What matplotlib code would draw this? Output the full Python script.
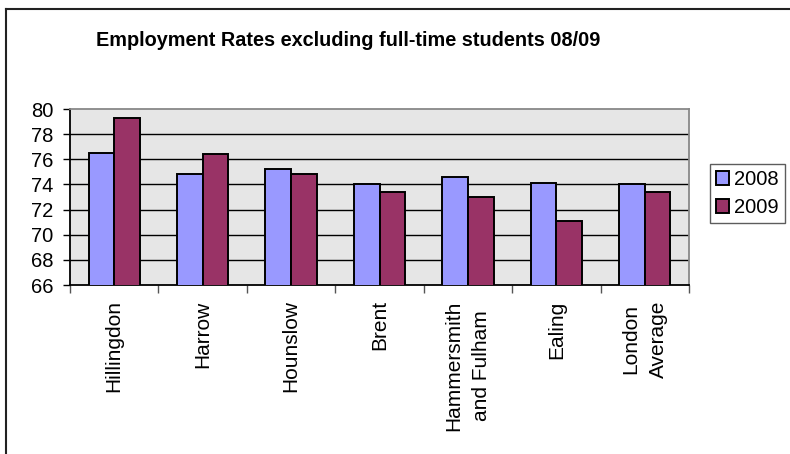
import numpy as np
import matplotlib
matplotlib.use('Agg')
import matplotlib.pyplot as plt
from matplotlib.patches import Patch
from matplotlib.lines import Line2D

plt.rcParams['font.family'] = ['Liberation Sans', 'DejaVu Sans']

boroughs = ['Hillingdon', 'Harrow', 'Hounslow', 'Brent',
            'Hammersmith\nand Fulham', 'Ealing', 'London\nAverage']
rate_2008 = [76.5, 74.8, 75.2, 74.0, 74.6, 74.1, 74.0]
rate_2009 = [79.3, 76.4, 74.8, 73.4, 73.0, 71.1, 73.4]
years = ['2008', '2009']
y_ticks = [66, 68, 70, 72, 74, 76, 78, 80]

col_2008 = '#9999ff'
col_2009 = '#993366'

W, H = 790, 454
fig = plt.figure(figsize=(W / 100, H / 100), dpi=100)
fig.patch.set_facecolor('white')

ax = fig.add_axes((70 / W, 1 - 285 / H, 619 / W, 176 / H))
ax.set_facecolor('#e6e6e6')

x = np.arange(len(boroughs)) + 0.5
w = 0.29
ax.bar(x - w / 2, rate_2008, width=w, color=col_2008, edgecolor='black',
       linewidth=1.4, zorder=3)
ax.bar(x + w / 2, rate_2009, width=w, color=col_2009, edgecolor='black',
       linewidth=1.4, zorder=3)

ax.set_xlim(0, len(boroughs))
ax.set_ylim(y_ticks[0], y_ticks[-1])
ax.set_yticks(y_ticks)
ax.tick_params(axis='y', direction='out', length=5, width=1, pad=7,
               labelsize=14.5, colors='black')

# major ticks mark the group boundaries, minor ticks carry the names
ax.set_xticks(np.arange(len(boroughs) + 1))
ax.set_xticklabels([])
ax.set_xticks(x, minor=True)
ax.set_xticklabels(boroughs, minor=True, rotation=90, ha='center', va='top',
                   multialignment='center', fontsize=15, linespacing=1.6)
ax.tick_params(axis='x', which='major', direction='out', length=6, width=1,
               color='#555555')
ax.tick_params(axis='x', which='minor', length=0, pad=11)

for yv in y_ticks[1:-1]:
    ax.axhline(yv, color='black', lw=1, zorder=1)

ax.spines['left'].set_color('black')
ax.spines['bottom'].set_color('black')
ax.spines['top'].set_color('#888888')
ax.spines['right'].set_color('#888888')
for s in ax.spines.values():
    s.set_linewidth(1.3)

fig.text(348 / W, 1 - 46 / H,
         'Employment Rates excluding full-time students 08/09',
         ha='center', va='baseline', fontsize=14.3, fontweight='bold')

handles = [Patch(facecolor=col_2008, edgecolor='black', linewidth=1.4),
           Patch(facecolor=col_2009, edgecolor='black', linewidth=1.4)]
leg = fig.legend(handles, years, loc='upper left',
                 bbox_to_anchor=(710 / W, 1 - 164 / H), fontsize=14.5,
                 frameon=True, fancybox=False, borderpad=0.3,
                 labelspacing=0.45, handlelength=0.65, handleheight=0.65,
                 handletextpad=0.25, borderaxespad=0)
leg.get_frame().set_edgecolor('#333333')
leg.get_frame().set_linewidth(1)

# outer chart frame
fig.add_artist(Line2D([6 / W, 6 / W], [0, 1 - 9 / H], color='#222222',
                      lw=1.5, transform=fig.transFigure))
fig.add_artist(Line2D([6 / W, 1], [1 - 9 / H, 1 - 9 / H], color='#222222',
                      lw=1.5, transform=fig.transFigure))

fig.savefig('out.png', dpi=100)
